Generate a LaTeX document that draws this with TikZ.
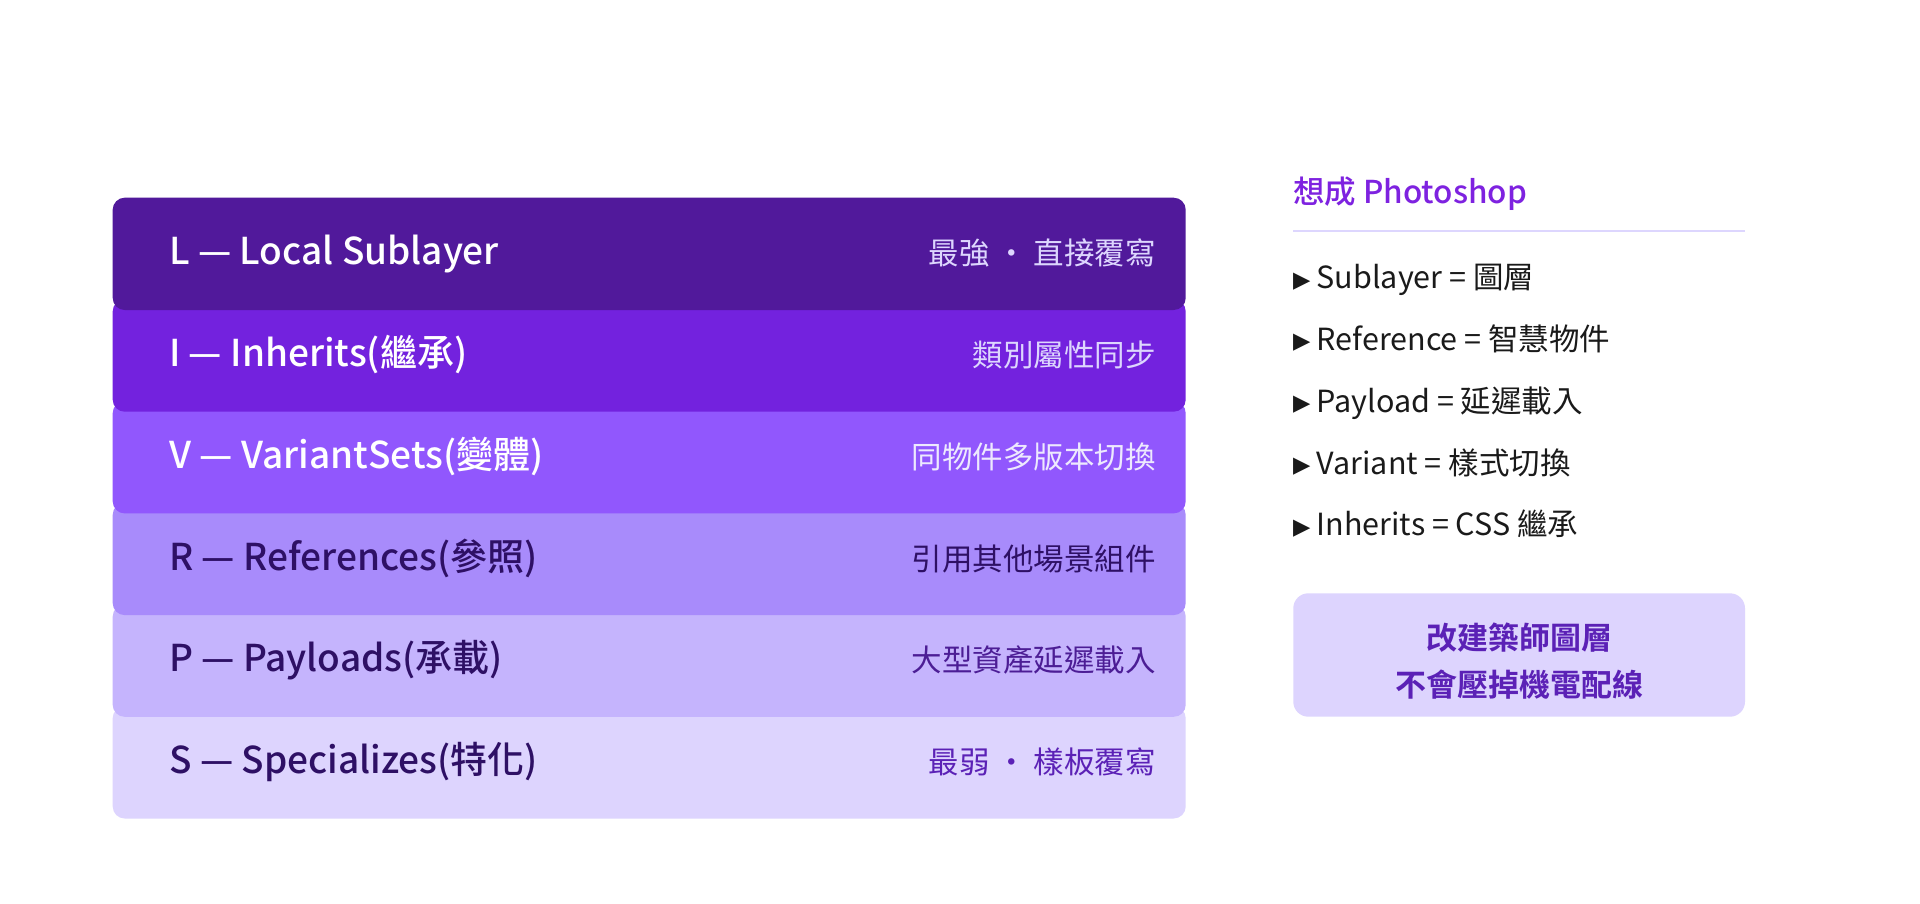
\documentclass[tikz,border=0pt]{standalone}
\usepackage{fontspec}
\setmainfont{Noto Sans CJK TC}
\newfontfamily\medfont{Noto Sans CJK TC Medium}
\newfontfamily\boldfont{Noto Sans CJK TC Bold}
\newfontfamily\dejavu{DejaVu Sans}
\definecolor{cL}{HTML}{51199B}
\definecolor{cI}{HTML}{7322DE}
\definecolor{cV}{HTML}{9157FD}
\definecolor{cR}{HTML}{A88BFB}
\definecolor{cP}{HTML}{C5B4FD}
\definecolor{cS}{HTML}{DDD4FE}
\definecolor{ink}{HTML}{2E1065}
\definecolor{lav}{HTML}{DDD6FE}
\definecolor{lavb}{HTML}{EDE9FE}
\definecolor{pdesc}{HTML}{4C1D95}
\definecolor{sdesc}{HTML}{5B21B6}
\definecolor{titlec}{HTML}{7E22E0}
\definecolor{calltext}{HTML}{5B21B6}
\definecolor{bodyc}{HTML}{1A1A1A}
\newcommand{\tri}{\makebox[23.5pt][l]{\raisebox{1.3pt}{\dejavu\fontsize{22.5}{22.5}\selectfont ▶}}}
\begin{document}
\begin{tikzpicture}[x=1pt,y=-1pt,
  layerbox/.style={rounded corners=12pt, minimum width=1073pt, minimum height=112.3pt, inner sep=0pt, draw=none},
  lab/.style={anchor=base west, inner sep=0pt, font=\medfont\fontsize{37}{40}\selectfont},
  desc/.style={anchor=base east, inner sep=0pt, font=\fontsize{30.5}{36}\selectfont},
  bullet/.style={anchor=base west, inner sep=0pt, text=bodyc, font=\fontsize{30.5}{36}\selectfont},
  calltxt/.style={anchor=base, inner sep=0pt, text=calltext, font=\boldfont\fontsize{31}{36}\selectfont}]
\useasboundingbox (0,0) rectangle (1920,904);
\fill[white] (0,0) rectangle (1920,904);
% layer stack (lower layers first)
\node[layerbox, fill=cS] (bS) at (649.2,762.35) {};
\node[layerbox, fill=cP] (bP) at (649.2,660.65) {};
\node[layerbox, fill=cR] (bR) at (649.2,558.95) {};
\node[layerbox, fill=cV] (bV) at (649.2,457.25) {};
\node[layerbox, fill=cI] (bI) at (649.2,355.55) {};
\node[layerbox, fill=cL] (bL) at (649.2,253.85) {};
% labels
\node[lab, text=white] (tL) at (169,265) {L — Local Sublayer};
\node[lab, text=white] (tI) at (169,366.7) {I — Inherits(繼承)};
\node[lab, text=white] (tV) at (169,468.4) {V — VariantSets(變體)};
\node[lab, text=ink] (tR) at (169,570.1) {R — References(參照)};
\node[lab, text=ink] (tP) at (169,671.8) {P — Payloads(承載)};
\node[lab, text=ink] (tS) at (169,773.5) {S — Specializes(特化)};
% descriptions
\node[desc, text=lav] (dL) at (1156,265) {最強 ・ 直接覆寫};
\node[desc, text=lav] (dI) at (1156,366.7) {類別屬性同步};
\node[desc, text=lavb] (dV) at (1156,468.4) {同物件多版本切換};
\node[desc, text=ink] (dR) at (1156,570.1) {引用其他場景組件};
\node[desc, text=pdesc] (dP) at (1156,671.8) {大型資產延遲載入};
\node[desc, text=sdesc] (dS) at (1156,773.5) {最弱 ・ 樣板覆寫};
% right panel
\node[anchor=base west, inner sep=0pt, text=titlec, font=\medfont\fontsize{31.5}{36}\selectfont] (title) at (1293,203.5) {想成 Photoshop};
\draw[line width=2pt, draw=lav] (1293,231) -- (1745,231);
\node[bullet] (b1) at (1293,288.3) {\tri Sublayer = 圖層};
\node[bullet] (b2) at (1293,350.2) {\tri Reference = 智慧物件};
\node[bullet] (b3) at (1293,412.1) {\tri Payload = 延遲載入};
\node[bullet] (b4) at (1293,474) {\tri Variant = 樣式切換};
\node[bullet] (b5) at (1293,535.9) {\tri Inherits = CSS 繼承};
% callout
\node[rounded corners=15pt, fill=cS, minimum width=451.7pt, minimum height=123.4pt, inner sep=0pt] (call) at (1519.15,655) {};
\node[calltxt] (c1) at (1519.15,649.5) {改建築師圖層};
\node[calltxt] (c2) at (1519.15,696.5) {不會壓掉機電配線};
\end{tikzpicture}
\end{document}
